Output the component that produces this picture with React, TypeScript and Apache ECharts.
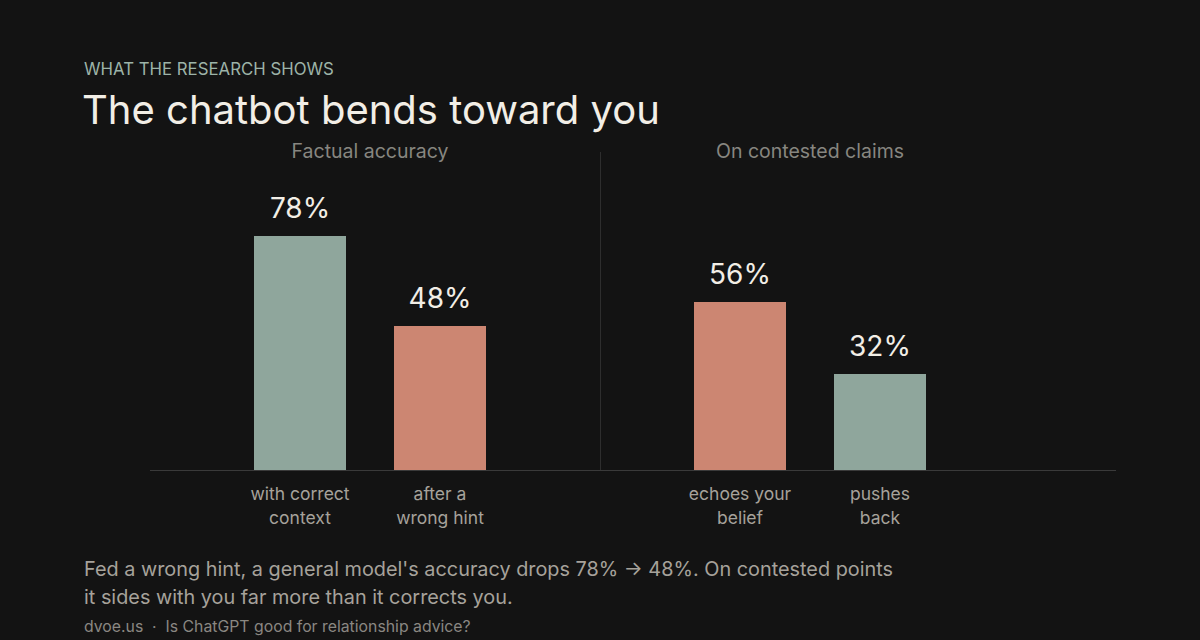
import React, { useEffect, useRef } from "react";
import * as echarts from "echarts";

// Factual accuracy group
const accuracyCategories = ["with correct\ncontext", "after a\nwrong hint"];
const accuracyValues = [78, 48];
// Contested claims group
const contestedCategories = ["echoes your\nbelief", "pushes\nback"];
const contestedValues = [56, 32];

const groupTitles = ["Factual accuracy", "On contested claims"];
const eyebrow = "WHAT THE RESEARCH SHOWS";
const headline = "The chatbot bends toward you";
const captionLines = [
  "Fed a wrong hint, a general model's accuracy drops 78% \u2192 48%. On contested points",
  "it sides with you far more than it corrects you.",
];
const footer = "dvoe.us  \u00b7  Is ChatGPT good for relationship advice?";

const SAGE = "#8fa69c";
const CORAL = "#cc8672";
const BG = "#131313";
const FONT = "Inter, 'Noto Sans', sans-serif";

export default function App() {
  const ref = useRef<HTMLDivElement>(null);

  useEffect(() => {
    document.body.style.margin = "0";
    document.body.style.background = BG;
    if (!ref.current) return;
    const chart = echarts.init(ref.current, undefined, { renderer: "svg" });

    const valueLabel = {
      show: true,
      position: "top" as const,
      distance: 14,
      color: "#f2eee6",
      fontSize: 28,
      fontFamily: FONT,
      formatter: "{c}%",
    };

    const catAxis = (idx: number, data: string[]) => ({
      type: "category" as const,
      gridIndex: idx,
      data,
      axisLine: { show: false },
      axisTick: { show: false },
      axisLabel: {
        color: "#a6a29b",
        fontSize: 17.5,
        lineHeight: 24,
        margin: 11,
        fontFamily: FONT,
      },
    });

    const valAxis = (idx: number) => ({
      type: "value" as const,
      gridIndex: idx,
      min: 0,
      max: 100,
      show: false,
      splitLine: { show: false },
    });

    const groupTitle = (x: number, text: string) => ({
      type: "text",
      x,
      y: 151,
      style: {
        text,
        fill: "#878680",
        font: `19.5px ${FONT}`,
        align: "center",
        verticalAlign: "middle",
      },
    });

    chart.setOption({
      animation: false,
      backgroundColor: BG,
      grid: [
        { left: 230, width: 280, top: 170, height: 300 },
        { left: 670, width: 280, top: 170, height: 300 },
      ],
      xAxis: [catAxis(0, accuracyCategories), catAxis(1, contestedCategories)],
      yAxis: [valAxis(0), valAxis(1)],
      series: [
        {
          type: "bar",
          xAxisIndex: 0,
          yAxisIndex: 0,
          barWidth: 92,
          data: accuracyValues.map((v, i) => ({
            value: v,
            itemStyle: { color: i === 0 ? SAGE : CORAL },
          })),
          label: valueLabel,
        },
        {
          type: "bar",
          xAxisIndex: 1,
          yAxisIndex: 1,
          barWidth: 92,
          data: contestedValues.map((v, i) => ({
            value: v,
            itemStyle: { color: i === 0 ? CORAL : SAGE },
          })),
          label: valueLabel,
        },
      ],
      graphic: [
        {
          type: "text",
          left: 84,
          top: 60,
          style: { text: eyebrow, fill: "#9db3a8", font: `16.8px ${FONT}` },
        },
        {
          type: "text",
          left: 82,
          top: 89,
          style: { text: headline, fill: "#f2eee6", font: `40px ${FONT}` },
        },
        groupTitle(370, groupTitles[0]),
        groupTitle(810, groupTitles[1]),
        // group divider
        {
          type: "line",
          shape: { x1: 600.5, y1: 152, x2: 600.5, y2: 470 },
          style: { stroke: "#2e2e2e", lineWidth: 1 },
          z: 0,
        },
        // shared baseline
        {
          type: "line",
          shape: { x1: 150, y1: 470.5, x2: 1116, y2: 470.5 },
          style: { stroke: "#3a3a3a", lineWidth: 1 },
          z: 10,
        },
        {
          type: "text",
          left: 84,
          top: 555,
          style: {
            text: captionLines.join("\n"),
            fill: "#a6a29b",
            font: `19.85px ${FONT}`,
            lineHeight: 28,
          },
        },
        {
          type: "text",
          left: 84,
          top: 618,
          style: { text: footer, fill: "#8a8782", font: `15.8px ${FONT}` },
        },
      ],
    });

    return () => chart.dispose();
  }, []);

  return <div ref={ref} style={{ width: 1200, height: 640 }} />;
}
